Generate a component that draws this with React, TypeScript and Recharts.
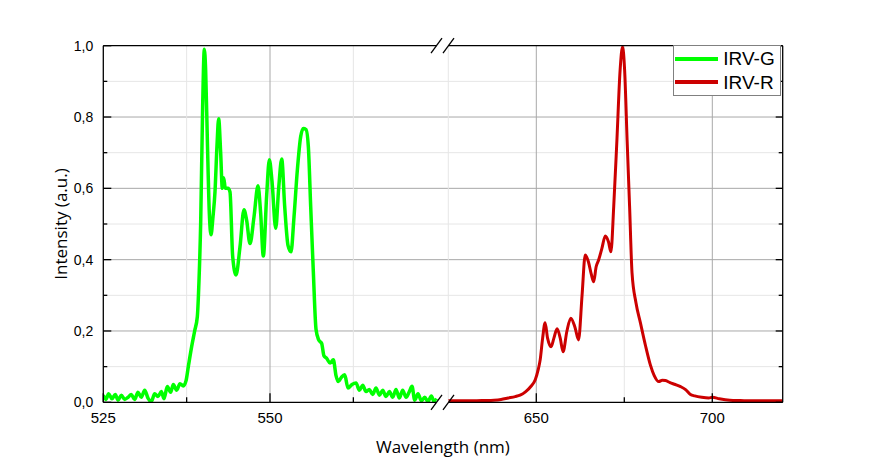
import { LineChart, Line, XAxis, YAxis, ReferenceLine, ReferenceDot, Legend } from 'recharts';

// emission spectra, wavelength (nm) / normalised intensity
const GREEN_WL = [
  525, 525.4, 525.8, 526.3, 526.8, 527.2, 527.7, 528.2, 528.7, 529.2, 529.7, 530.2, 530.7, 531.2, 531.7,
  532.2, 532.7, 533.2, 533.7, 534.1, 534.6, 535.1, 535.5, 536, 536.5, 537, 537.4, 537.75, 538.25, 538.7,
  539.1, 539.35, 539.6, 539.9, 540.15, 540.35, 540.6, 540.9, 541.15, 541.45, 541.75, 542.05, 542.3, 542.6,
  542.85, 543.05, 543.3, 543.7, 544, 544.4, 544.9, 545.5, 546.1, 546.5, 547, 547.6, 548.2, 548.6, 549,
  549.5, 549.9, 550.3, 550.86, 551.3, 551.76, 552.2, 552.7, 553.15, 553.6, 554.1, 554.6, 555, 555.4,
  555.75, 556.1, 556.5, 556.9, 557.3, 557.75, 558.1, 558.5, 559, 559.5, 559.9, 560.25, 560.7, 561.2,
  561.7, 562.3, 562.9, 563.4, 563.9, 564.4, 564.9, 565.4, 565.9, 566.4, 566.9, 567.4, 567.9, 568.4,
  568.9, 569.4, 569.9, 570.4, 570.9, 571.3, 571.7, 572.2, 572.7, 573.2, 573.7, 574.2, 574.6, 575,
];
const GREEN_I = [
  0.02, 0.008, 0.024, 0.01, 0.022, 0.006, 0.02, 0.008, 0.014, 0.022, 0.008, 0.028, 0.014, 0.034, 0.012,
  0.002, 0.024, 0.016, 0.03, 0.01, 0.044, 0.028, 0.05, 0.034, 0.052, 0.046, 0.06, 0.1, 0.156, 0.2,
  0.24, 0.34, 0.5, 0.83, 0.99, 0.93, 0.74, 0.53, 0.47, 0.52, 0.59, 0.72, 0.795, 0.7,
  0.6, 0.63, 0.6, 0.6, 0.59, 0.41, 0.357, 0.436, 0.54, 0.51, 0.445, 0.52, 0.607, 0.53, 0.41,
  0.58, 0.68, 0.62, 0.488, 0.6, 0.682, 0.55, 0.44, 0.422, 0.52, 0.651, 0.745, 0.768, 0.765,
  0.717, 0.55, 0.365, 0.205, 0.175, 0.165, 0.13, 0.123, 0.11, 0.119, 0.075, 0.058, 0.07, 0.077,
  0.04, 0.05, 0.054, 0.034, 0.048, 0.03, 0.036, 0.022, 0.04, 0.02, 0.034, 0.016, 0.03, 0.014,
  0.036, 0.012, 0.034, 0.014, 0.03, 0.045, 0.006, 0.024, 0.004, 0.014, 0.002, 0.018, 0.002, 0.01,
];
const RED_WL = [
  625, 630, 635, 638, 640, 642, 644, 645.4, 647, 648.5, 649.7, 650.5, 651.1, 651.8, 652.5, 653.2, 654.2,
  655, 655.9, 656.8, 657.6, 658.7, 659.8, 661, 662, 663, 663.9, 664.8, 665.6, 666.3, 667, 667.7, 668.6,
  669.6, 670.5, 671.2, 672, 672.9, 673.8, 674.5, 675.1, 675.8, 676.5, 677.2, 678.3, 679.6, 681, 682.4,
  683.5, 684.8, 685.8, 686.7, 688, 689.5, 691, 692.5, 693.8, 695, 697, 699, 700, 702, 705, 708, 712, 716, 720,
];
const RED_I = [
  0.004, 0.004, 0.005, 0.006, 0.008, 0.012, 0.016, 0.02, 0.03, 0.045, 0.063, 0.09, 0.119, 0.18, 0.223, 0.18, 0.156,
  0.18, 0.206, 0.18, 0.142, 0.2, 0.236, 0.21, 0.175, 0.3, 0.413, 0.394, 0.36, 0.338, 0.38, 0.399, 0.43,
  0.466, 0.45, 0.422, 0.55, 0.735, 0.93, 0.997, 0.93, 0.735, 0.55, 0.362, 0.28, 0.222, 0.16, 0.105,
  0.075, 0.058, 0.062, 0.061, 0.055, 0.05, 0.044, 0.035, 0.022, 0.018, 0.014, 0.012, 0.014, 0.01, 0.006, 0.005, 0.004, 0.004, 0.004,
];

const X_MAJOR = [525, 550, 650, 700];
const X_MINOR = [537.5, 562.5, 675];
const X_GRID_MAJOR = [550, 650, 700];
const X_GRID_MINOR = [537.5, 562.5, 625, 675];
const Y_TICKS = [0, 0.1, 0.2, 0.3, 0.4, 0.5, 0.6, 0.7, 0.8, 0.9, 1];
const Y_GRID = [0.1, 0.2, 0.3, 0.4, 0.5, 0.6, 0.7, 0.8, 0.9];

// broken x axis: two wavelength ranges laid side by side on one numeric axis
const LEFT = [525, 575];
const RIGHT = [625, 720];
const LEFT_W = 333.4;
const GAP = 11.6;
const RIGHT_W = 334.4;
const U_MAX = LEFT_W + GAP + RIGHT_W;

const toU = (wl: number) =>
  wl <= LEFT[1]
    ? ((wl - LEFT[0]) / (LEFT[1] - LEFT[0])) * LEFT_W
    : LEFT_W + GAP + ((wl - RIGHT[0]) / (RIGHT[1] - RIGHT[0])) * RIGHT_W;
const fromU = (u: number) =>
  u <= LEFT_W + GAP / 2
    ? LEFT[0] + (u / LEFT_W) * (LEFT[1] - LEFT[0])
    : RIGHT[0] + ((u - LEFT_W - GAP) / RIGHT_W) * (RIGHT[1] - RIGHT[0]);

const greenRows = GREEN_WL.map((wl, i) => ({ u: toU(wl), v: GREEN_I[i] }));
const redRows = RED_WL.map((wl, i) => ({ u: toU(wl), v: RED_I[i] }));
const xTicks = [...X_MAJOR, ...X_MINOR].map(toU);
const BREAK_U = (toU(LEFT[1]) + toU(RIGHT[0])) / 2;

const TICK_FONT = '"Liberation Sans", Arial, sans-serif';
const TITLE_FONT = '"Open Sans", "Noto Sans", sans-serif';
const FRAME = { stroke: '#000', strokeWidth: 1.3 };

const isMajorX = (u: number) => X_MAJOR.includes(Math.round(fromU(u) * 10) / 10);
const isMajorY = (v: number) => Math.round(v * 10) % 2 === 0;

function BottomTick({ x, y, payload }: any) {
  const major = isMajorX(payload.value);
  const wl = Math.round(fromU(payload.value) * 10) / 10;
  return (
    <g>
      <line x1={x} y1={y} x2={x} y2={y - (major ? 9 : 5)} {...FRAME} />
      {major && (
        <text x={x} y={y + 20.5} textAnchor="middle" fontSize={15} fontFamily={TICK_FONT} fill="#000">
          {wl}
        </text>
      )}
    </g>
  );
}

function TopTick({ x, y, payload }: any) {
  const major = isMajorX(payload.value);
  return <line x1={x} y1={y} x2={x} y2={y + (major ? 6 : 3)} {...FRAME} />;
}

function LeftTick({ x, y, payload }: any) {
  const major = isMajorY(payload.value);
  return (
    <g>
      <line x1={x} y1={y} x2={x + (major ? 8 : 4)} y2={y} {...FRAME} />
      {major && (
        <text x={x - 10} y={y + 5} textAnchor="end" fontSize={14} fontFamily={TICK_FONT} fill="#000">
          {payload.value.toFixed(1).replace('.', ',')}
        </text>
      )}
    </g>
  );
}

function RightTick({ x, y, payload }: any) {
  const major = isMajorY(payload.value);
  return <line x1={x} y1={y} x2={x - (major ? 7 : 4)} y2={y} {...FRAME} />;
}

function BreakMark({ cx, cy }: any) {
  return (
    <g>
      <rect x={cx - 6} y={cy - 2} width={12} height={4} fill="#fff" />
      <line x1={cx - 11.5} y1={cy + 7.5} x2={cx - 0.5} y2={cy - 7.5} {...FRAME} />
      <line x1={cx + 0.5} y1={cy + 7.5} x2={cx + 11.5} y2={cy - 7.5} {...FRAME} />
    </g>
  );
}

const yTitle = ({ viewBox }: any) => {
  const bx = viewBox.x + viewBox.width - 36.6;
  const by = viewBox.y + viewBox.height / 2;
  return (
    <text x={bx} y={by} transform={`rotate(-90 ${bx} ${by})`} textAnchor="middle" fontSize={17} fontFamily={TITLE_FONT} fill="#000">
      Intensity (a.u.)
    </text>
  );
};

const xTitle = ({ viewBox }: any) => (
  <text x={viewBox.x + viewBox.width / 2} y={viewBox.y + 51} textAnchor="middle" fontSize={17} fontFamily={TITLE_FONT} fill="#000">
    Wavelength (nm)
  </text>
);

function LegendBox({ payload }: any) {
  return (
    <div style={{ border: '1px solid #808080', background: '#fff', width: 106, padding: '1px 0' }}>
      {(payload || []).map((p: any) => (
        <div key={p.value} style={{ display: 'flex', alignItems: 'center', height: 23.5 }}>
          <span style={{ display: 'inline-block', width: 43, height: 4, background: p.color, marginLeft: 1 }} />
          <span style={{ marginLeft: 5, fontSize: 19, fontFamily: TICK_FONT, color: '#000', lineHeight: '23px' }}>{p.value}</span>
        </div>
      ))}
    </div>
  );
}

export default function App() {
  return (
    <div style={{ position: 'absolute', left: 0, top: 0, width: 880, height: 464, background: '#fff' }}>
      <LineChart width={880} height={464} margin={{ top: 45.7, right: 0, bottom: 0, left: 0 }}>
        <XAxis
          type="number"
          dataKey="u"
          domain={[0, U_MAX]}
          ticks={xTicks}
          interval={0}
          tickSize={0}
          tickMargin={0}
          tickLine={false}
          tick={<BottomTick />}
          height={61.7}
          axisLine={false}
          allowDataOverflow
          label={xTitle}
        />
        <XAxis
          xAxisId="top"
          orientation="top"
          type="number"
          dataKey="u"
          domain={[0, U_MAX]}
          ticks={xTicks}
          interval={0}
          tickSize={0}
          tickMargin={0}
          tickLine={false}
          tick={<TopTick />}
          height={0}
          axisLine={false}
          allowDataOverflow
        />
        <YAxis
          type="number"
          domain={[0, 1]}
          ticks={Y_TICKS}
          interval={0}
          tickSize={0}
          tickMargin={0}
          tickLine={false}
          tick={<LeftTick />}
          width={103.3}
          axisLine={false}
          allowDataOverflow
          label={yTitle}
        />
        <YAxis
          yAxisId="right"
          orientation="right"
          type="number"
          domain={[0, 1]}
          ticks={Y_TICKS}
          interval={0}
          tickSize={0}
          tickMargin={0}
          tickLine={false}
          tick={<RightTick />}
          width={97.3}
          axisLine={false}
          allowDataOverflow
        />

        {Y_GRID.map((v) => (
          <ReferenceLine key={'h' + v} y={v} stroke={isMajorY(v) ? '#a8a8a8' : '#e6e6e6'} strokeWidth={1} />
        ))}
        {X_GRID_MINOR.map((wl) => (
          <ReferenceLine key={'vm' + wl} x={toU(wl)} stroke="#e6e6e6" strokeWidth={1} />
        ))}
        {X_GRID_MAJOR.map((wl) => (
          <ReferenceLine key={'vM' + wl} x={toU(wl)} stroke="#a8a8a8" strokeWidth={1} />
        ))}

        <Line data={greenRows} dataKey="v" name="IRV-G" type="monotone" stroke="#00ff00" strokeWidth={3.5} dot={false} activeDot={false} isAnimationActive={false} />
        <Line data={redRows} dataKey="v" name="IRV-R" type="monotone" stroke="#cc0000" strokeWidth={3} dot={false} activeDot={false} isAnimationActive={false} />

        {/* plot frame */}
        <ReferenceLine x={0} ifOverflow="visible" {...FRAME} />
        <ReferenceLine x={U_MAX} ifOverflow="visible" {...FRAME} />
        <ReferenceLine y={0} ifOverflow="visible" {...FRAME} />
        <ReferenceLine y={1} ifOverflow="visible" {...FRAME} />

        <Legend
          layout="vertical"
          align="center"
          verticalAlign="middle"
          content={<LegendBox />}
          wrapperStyle={{ left: 673.3, top: 45, width: 108, height: 51 }}
        />

        <ReferenceDot x={BREAK_U} y={0} r={0} ifOverflow="visible" shape={(p: any) => <BreakMark cx={p.cx} cy={p.cy} />} />
        <ReferenceDot x={BREAK_U} y={1} r={0} ifOverflow="visible" shape={(p: any) => <BreakMark cx={p.cx} cy={p.cy} />} />
      </LineChart>
    </div>
  );
}
